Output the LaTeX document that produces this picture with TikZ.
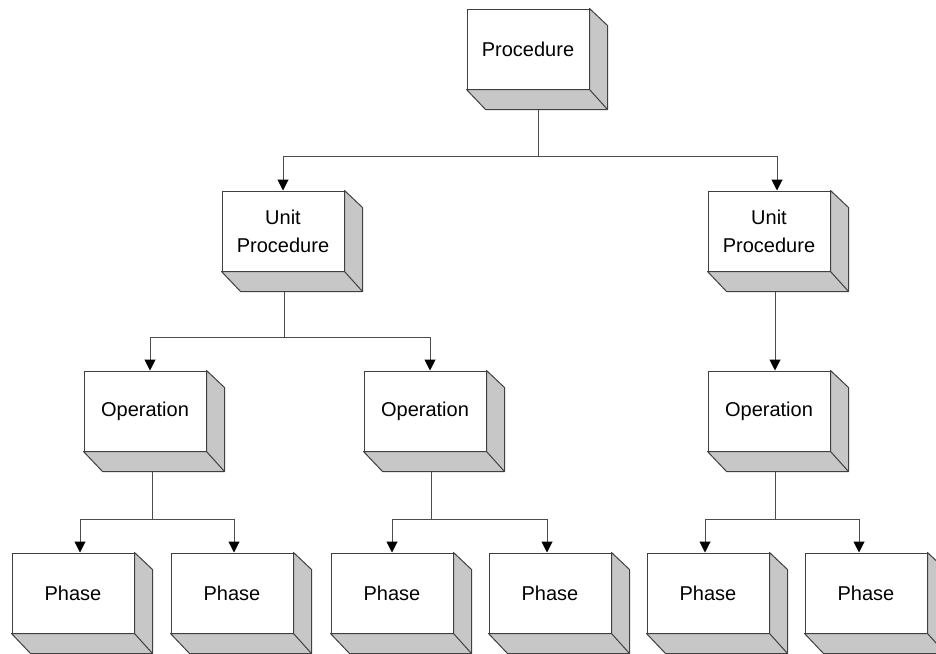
\documentclass[tikz,border=0pt]{standalone}
\usepackage{fontspec}
\setmainfont{Liberation Sans}
\usetikzlibrary{arrows.meta}

\begin{document}
\begin{tikzpicture}[x=1pt,y=-1pt]
	 \tikzstyle{block}=[draw=black!75,fill=white,line width=1pt,minimum width=122pt,minimum height=80pt,inner sep=0pt,align=center,font=\fontsize{20}{28}\selectfont]
	 \tikzstyle{side}=[draw=black!75,fill=black!22,line width=1pt,line join=round]
	 \tikzstyle{link}=[draw=black!70,line width=1pt,-{Triangle[width=11pt,length=11pt,color=black]}]
	 \tikzstyle{stem}=[draw=black!70,line width=1pt]

	\useasboundingbox (0,0) rectangle (936,653);

	 \node[block] (proc) at (528,49) 		{Procedure};
	 \node[block] (up1) at (283,231) 		{Unit\\Procedure};
	 \node[block] (up2) at (769,231) 		{Unit\\Procedure};
	 \node[block] (op1) at (145,411) 		{Operation};
	 \node[block] (op2) at (425,411) 		{Operation};
	 \node[block] (op3) at (769,411) 		{Operation};
	 \node[block] (ph1) at (73,593) 		{Phase};
	 \node[block] (ph2) at (232,593) 		{Phase};
	 \node[block] (ph3) at (392,593) 		{Phase};
	 \node[block] (ph4) at (550,593) 		{Phase};
	 \node[block] (ph5) at (708,593) 		{Phase};
	 \node[block] (ph6) at (866,593) 		{Phase};

	% grey sides of the boxes
	\foreach \n in {proc,up1,up2,op1,op2,op3,ph1,ph2,ph3,ph4,ph5,ph6} {
		\draw[side] (\n.north east) -- ++(18,17) -- ([shift={(18,20)}]\n.south east)
			-- ([shift={(19,20)}]\n.south west) -- (\n.south west) -- (\n.south east) -- cycle;
		\draw[side] (\n.south east) -- ++(18,20);
	}

	\draw[stem] ([shift={(10,20)}]proc.south) -- ++(0,47) coordinate (b1);
	\draw[link] (b1) -| (up1.north);
	\draw[link] (b1) -| ([xshift=8pt]up2.north);

	\draw[stem] ([shift={(1,20)}]up1.south) -- ++(0,46) coordinate (b2);
	\draw[link] (b2) -| ([xshift=5pt]op1.north);
	\draw[link] (b2) -| ([xshift=5pt]op2.north);

	\draw[link] ([shift={(6,20)}]up2.south) -- ([xshift=6pt]op3.north);

	\draw[stem] ([shift={(7,20)}]op1.south) -- ++(0,48) coordinate (b3);
	\draw[link] (b3) -| ([xshift=7pt]ph1.north);
	\draw[link] (b3) -| ([xshift=2pt]ph2.north);

	\draw[stem] ([shift={(6,20)}]op2.south) -- ++(0,48) coordinate (b4);
	\draw[link] (b4) -| (ph3.north);
	\draw[link] (b4) -| ([xshift=-3pt]ph4.north);

	\draw[stem] ([shift={(6,20)}]op3.south) -- ++(0,48) coordinate (b5);
	\draw[link] (b5) -| ([xshift=-3pt]ph5.north);
	\draw[link] (b5) -| ([xshift=-7pt]ph6.north);
\end{tikzpicture}
\end{document}
